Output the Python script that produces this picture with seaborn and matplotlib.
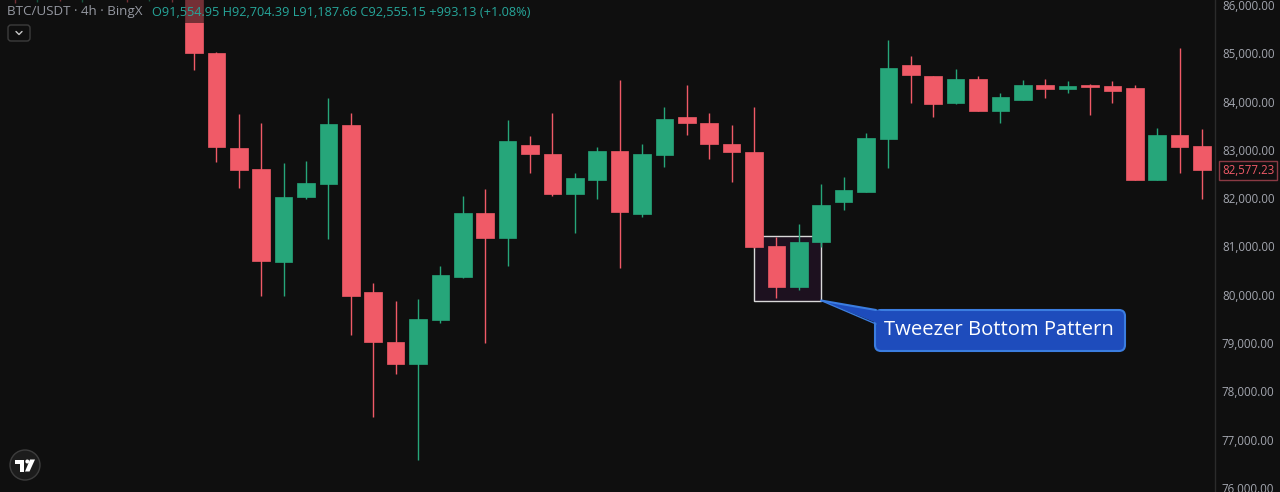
"""BTC/USDT 4h candlestick chart with a tweezer bottom highlight"""
import matplotlib
matplotlib.use("Agg")
import matplotlib.pyplot as plt
import seaborn as sns
import numpy as np
import pandas as pd
from matplotlib.patches import Rectangle, FancyBboxPatch, Polygon, Circle
from matplotlib.transforms import blended_transform_factory

# OHLC values (first 8 candles sit just above the top edge)
opens = [86700, 86250, 86600, 86300, 86800, 87100, 86700, 87000,
         86300, 85000, 83040, 82605, 80680, 82025, 82295, 83515, 80060, 79025,
         78570, 79480, 80370, 81695, 81180, 83100, 82915, 82085, 82380, 82980,
         81675, 82895, 83680, 83560, 83120, 82955, 81010, 80160, 81095, 81925,
         82130, 83225, 84760, 84530, 83970, 84470, 83805, 84035, 84345, 84260,
         84345, 84325, 84280, 82380, 83310, 83080]
highs = [86900, 86800, 86750, 86950, 87300, 87200, 87150, 87100,
         86600, 85030, 83745, 83560, 82730, 82770, 84075, 83765, 80245, 79870,
         79910, 80595, 82045, 82190, 83620, 83290, 83765, 82520, 83060, 84450,
         83120, 83890, 84345, 83765, 83515, 83890, 81195, 81465, 82295, 82440,
         83350, 85275, 84945, 84540, 84675, 84530, 84180, 84450, 84470, 84430,
         84370, 84430, 84345, 83455, 85110, 83430]
lows = [86050, 86060, 86080, 86070, 86120, 86060, 86090, 86060,
        84650, 82750, 82210, 79975, 79975, 81985, 81155, 79170, 77470, 78360,
        76580, 79420, 80350, 79005, 80600, 82520, 82040, 81280, 81985, 80560,
        81610, 82645, 83310, 82810, 82335, 80970, 79935, 80100, 80990, 81760,
        82130, 82625, 83970, 83680, 83960, 83800, 83560, 84030, 84075, 84180,
        83720, 83970, 82380, 82370, 82520, 81985]
closes = [86250, 86600, 86300, 86800, 87100, 86700, 87000, 86350,
          85000, 83060, 82585, 80700, 82025, 82315, 83540, 79975, 79025, 78570,
          79500, 80410, 81695, 81180, 83185, 82915, 82085, 82415, 82980, 81715,
          82915, 83640, 83560, 83120, 82955, 80990, 80160, 81095, 81860, 82170,
          83245, 84695, 84550, 83950, 84470, 83805, 84095, 84345, 84260, 84325,
          84310, 84220, 82380, 83310, 83060, 82577.23]

price_ticks = list(range(76000, 87000, 1000))
last_price = 82577.23
header_left = "BTC/USDT \u00b7 4h \u00b7 BingX"
header_values = "O91,554.95 H92,704.39 L91,187.66 C92,555.15 +993.13 (+1.08%)"
pattern_label = "Tweezer Bottom Pattern"
pattern_start, pattern_end = 33, 36          # candle indices framing the pattern
pattern_low, pattern_high = 79870, 81215

BG = "#0f0f0f"
UP = "#26a67a"
DOWN = "#f05a67"

df = pd.DataFrame({"open": opens, "high": highs, "low": lows, "close": closes})
df["idx"] = np.arange(len(df))
df["up"] = df["close"] >= df["open"]
df["color"] = np.where(df["up"], UP, DOWN)

sns.set_theme(style="dark", rc={"axes.facecolor": BG, "figure.facecolor": BG})
plt.rcParams["font.family"] = ["Open Sans", "DejaVu Sans"]

fig = plt.figure(figsize=(12.8, 4.92), dpi=100)
ax = fig.add_axes([0, 0, 1215 / 1280, 1])
ax.set_facecolor(BG)

# highlight box behind the candles
ax.add_patch(Rectangle((pattern_start, pattern_low), pattern_end - pattern_start,
                       pattern_high - pattern_low,
                       facecolor=(0.61, 0.15, 0.69, 0.10), edgecolor="#d9d9d9",
                       lw=1, zorder=1))

# wicks and bodies
ax.vlines(df["idx"], df["low"], df["high"], colors=df["color"], lw=1, zorder=2)
body = (df["close"] - df["open"]).abs().clip(lower=12)
bottom = df[["open", "close"]].min(axis=1)
ax.bar(df["idx"], body, bottom=bottom, width=0.78, color=df["color"],
       edgecolor=df["color"], lw=0.5, zorder=3)

ax.set_xlim(-0.661, 53.58)
ax.set_ylim(75917, 86103.5)
ax.set_xticks([])
ax.yaxis.tick_right()
ax.set_yticks(price_ticks)
ax.set_yticklabels([f"{p:,.2f}" for p in price_ticks])
ax.tick_params(axis="y", length=0, pad=5, labelsize=8.3, labelcolor="#a3a6af")
for name in ["top", "left", "bottom"]:
    ax.spines[name].set_visible(False)
ax.spines["right"].set_color("#2b2b2b")
ax.spines["right"].set_linewidth(1)
ax.grid(False)

# last price tag on the price axis
trans = blended_transform_factory(ax.transAxes, ax.transData)
ax.text(1.006, last_price, f"{last_price:,.2f}", transform=trans, ha="left",
        va="center", fontsize=8.3, color=DOWN, clip_on=False, zorder=5,
        bbox=dict(boxstyle="square,pad=0.25", fc=BG, ec="#8a3a44", lw=1))

# overlay in pixel coordinates for the chart furniture
ov = fig.add_axes([0, 0, 1, 1])
ov.set_xlim(0, 1280)
ov.set_ylim(492, 0)
ov.axis("off")
ov.patch.set_alpha(0)

ov.add_patch(Rectangle((0, 0), 545, 23, color=BG, alpha=0.55, lw=0))
ov.text(7, 12, header_left, ha="left", va="center", fontsize=9.6, color="#9598a1")
ov.text(152, 12, header_values, ha="left", va="center", fontsize=9.2, color="#26a69a")

ov.add_patch(FancyBboxPatch((8, 25), 22, 16, boxstyle="round,pad=0,rounding_size=3",
                            fc=BG, ec="#3c3c3c", lw=1))
ov.plot([16, 19, 22], [31.5, 34.5, 31.5], color="#c8c8c8", lw=1)

# callout
ov.add_patch(FancyBboxPatch((875, 310), 250, 41, boxstyle="round,pad=0,rounding_size=6",
                            fc="#1e4cbc", ec="#3b7de0", lw=1.5, zorder=3))
ov.add_patch(Polygon([(821, 300.5), (884, 311.5), (884, 326)], closed=True,
                     fc="#1e4cbc", ec="none", zorder=4))
ov.plot([821, 876], [300.5, 310], color="#3b7de0", lw=1.5, zorder=5)
ov.plot([821, 876], [300.5, 324], color="#3b7de0", lw=1.0, zorder=5)
ov.text(999, 330, pattern_label, ha="center", va="center", fontsize=14.6,
        color="white", zorder=6)

# logo badge
ov.add_patch(Circle((25, 465), 15, fc="#1c1c1c", ec="#3d3d3d", lw=1))
ov.add_patch(Polygon([(15, 459.5), (24, 459.5), (24, 471.5), (20, 471.5), (20, 463.5),
                      (15, 463.5)], closed=True, fc="white", ec="none"))
ov.add_patch(Circle((27.3, 461.5), 2, fc="white", ec="none"))
ov.add_patch(Polygon([(30, 459.5), (35, 459.5), (29.5, 471.5), (25, 471.5)], closed=True,
                     fc="white", ec="none"))

fig.savefig("out.png", dpi=100, facecolor=BG)
